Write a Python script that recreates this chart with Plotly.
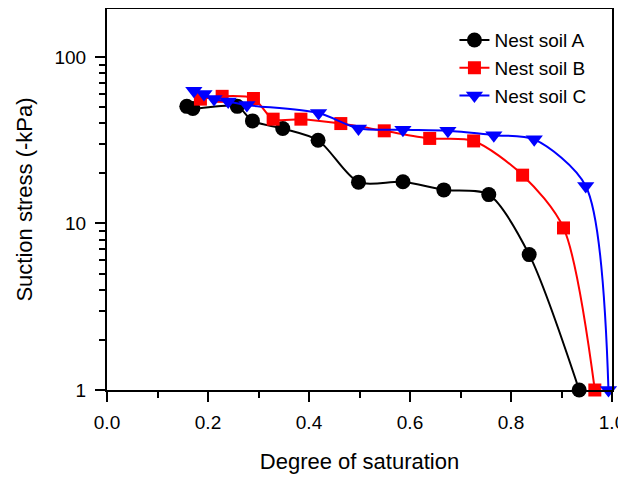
import plotly.graph_objects as go
import math

# Data
sA = [0.158, 0.170, 0.258, 0.288, 0.348, 0.418, 0.498, 0.586, 0.667, 0.756, 0.836, 0.935]
vA = [50.5, 49.0, 50.5, 41.3, 37.2, 31.6, 17.7, 17.8, 15.9, 14.9, 6.5, 1.0]

sB = [0.185, 0.228, 0.290, 0.329, 0.384, 0.463, 0.549, 0.639, 0.726, 0.823, 0.904, 0.966]
vB = [55.8, 58.0, 56.3, 42.3, 42.3, 39.8, 36.0, 32.4, 31.3, 19.5, 9.4, 1.0]

sC = [0.172, 0.192, 0.212, 0.240, 0.277, 0.419, 0.498, 0.586, 0.675, 0.766, 0.846, 0.948, 0.993]
vC = [62.7, 59.8, 55.8, 54.0, 51.4, 46.0, 37.2, 36.5, 36.0, 33.9, 32.0, 16.8, 1.0]

names = ["Nest soil A", "Nest soil B", "Nest soil C"]
colors = ["#000000", "#FF0000", "#0000FF"]
symbols = ["circle", "square", "triangle-down"]
sizes = [15, 13, 15]

xticks = [0.0, 0.2, 0.4, 0.6, 0.8, 1.0]
yticks = [1, 10, 100]
yminor = [2, 3, 4, 5, 6, 7, 8, 9, 20, 30, 40, 50, 60, 70, 80, 90]

fig = go.Figure()
for xs, ys, nm, c, sym, sz in zip([sA, sB, sC], [vA, vB, vC], names, colors, symbols, sizes):
    fig.add_trace(go.Scatter(
        x=xs, y=ys, name=nm, mode="lines+markers",
        line=dict(color=c, width=2, shape="spline", smoothing=0.8),
        marker=dict(color=c, symbol=sym, size=sz, line=dict(width=0)),
        cliponaxis=False,
    ))

font = "Liberation Sans, Arial, sans-serif"
fig.update_layout(
    width=618, height=471,
    margin=dict(l=99, r=14, t=1, b=89, autoexpand=False),
    paper_bgcolor="white", plot_bgcolor="white",
    font=dict(family=font, size=19, color="black"),
    showlegend=True,
    legend=dict(x=0.688, y=0.968, xanchor="left", yanchor="top",
                font=dict(size=19), bgcolor="rgba(0,0,0,0)",
                tracegroupgap=0),
    xaxis=dict(
        range=[0, 1.0], tickvals=xticks, ticktext=[f"{v:.1f}" for v in xticks],
        automargin=False,
        showline=True, linecolor="black", linewidth=2, mirror=True,
        ticks="outside", ticklen=10, tickwidth=2, tickcolor="black",
        ticklabelstandoff=4,
        minor=dict(tickvals=[0.1, 0.3, 0.5, 0.7, 0.9], ticks="outside", ticklen=6,
                   tickwidth=2, tickcolor="black", showgrid=False),
        showgrid=False, zeroline=False,
        tickfont=dict(size=19),
        title=dict(text="Degree of saturation", font=dict(size=22), standoff=22),
    ),
    yaxis=dict(
        type="log", range=[0, math.log10(194)],
        tickvals=yticks, ticktext=[str(v) for v in yticks],
        automargin=False,
        showline=True, linecolor="black", linewidth=2, mirror=True,
        ticks="outside", ticklen=10, tickwidth=2, tickcolor="black",
        ticklabelstandoff=5,
        minor=dict(tickvals=yminor, ticks="outside", ticklen=6, tickwidth=2,
                   tickcolor="black", showgrid=False),
        showgrid=False, zeroline=False,
        tickfont=dict(size=19),
        title=dict(text="Suction stress (-kPa)", font=dict(size=22), standoff=16),
    ),
)

fig.write_html("out.html")
